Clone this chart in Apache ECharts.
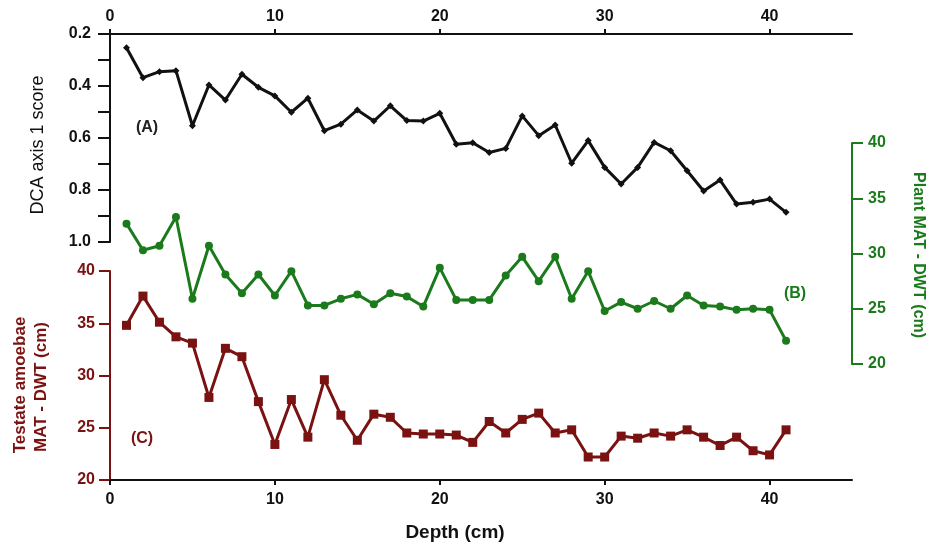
<!DOCTYPE html>
<html>
<head>
<meta charset="utf-8">
<script src="https://cdn.jsdelivr.net/npm/echarts@6/dist/echarts.min.js"></script>
<style>
  html, body { margin: 0; padding: 0; background: #ffffff; }
  #chart { width: 929px; height: 549px; }
</style>
</head>
<body>
<div id="chart"></div>
<script>
// Depth of each sample (cm)
const depth = [1,2,3,4,5,6,7,8,9,10,11,12,13,14,15,16,17,18,19,20,21,22,23,24,25,26,27,28,29,30,31,32,33,34,35,36,37,38,39,40,41];

// (A) DCA axis 1 sample scores
const dcaScore = [0.253,0.368,0.345,0.341,0.553,0.396,0.454,0.355,0.405,0.438,
                  0.501,0.447,0.572,0.547,0.492,0.535,0.476,0.533,0.535,0.505,
                  0.624,0.618,0.656,0.640,0.515,0.591,0.550,0.697,0.610,0.713,
                  0.777,0.713,0.617,0.649,0.726,0.804,0.762,0.854,0.847,0.835,0.886];

// (B) Plant-based MAT - DWT reconstruction (cm)
const plantMat = [32.7,30.3,30.7,33.3,25.9,30.7,28.1,26.4,28.1,26.2,
                  28.4,25.3,25.3,25.9,26.3,25.4,26.4,26.1,25.2,28.7,
                  25.8,25.8,25.8,28.0,29.7,27.5,29.7,25.9,28.4,24.8,
                  25.6,25.0,25.7,25.0,26.2,25.3,25.2,24.9,25.0,24.9,22.1];

// (C) Testate amoebae MAT - DWT reconstruction (cm)
const testateMat = [34.8,37.6,35.1,33.7,33.1,27.9,32.6,31.8,27.5,23.4,
                    27.7,24.1,29.6,26.2,23.8,26.3,26.0,24.5,24.4,24.4,
                    24.3,23.6,25.6,24.5,25.8,26.4,24.5,24.8,22.2,22.2,
                    24.2,24.0,24.5,24.2,24.8,24.1,23.3,24.1,22.8,22.4,24.8];

// Tick values
const depthTicks = [0,10,20,30,40];
const dcaTicks = [0.2,0.4,0.6,0.8,1.0];
const dcaMinorTicks = [0.2,0.3,0.4,0.5,0.6,0.7,0.8,0.9,1.0];
const matTicks = [20,25,30,35,40];

const FONT = '"Liberation Sans", Arial, sans-serif';
const BLACK = '#111111';
const GREEN = '#1b7a1b';
const RED = '#7a1212';

const pairs = vals => depth.map((d, i) => [d, vals[i]]);

function xAxisBase(gridIndex, position, show, margin) {
  return {
    type: 'value', gridIndex, position, show,
    min: 0, max: 45,
    axisLine: { show: true, onZero: false, lineStyle: { color: BLACK, width: 2 } },
    axisTick: { show: true, inside: false, length: 5, customValues: depthTicks, lineStyle: { color: BLACK, width: 2 } },
    axisLabel: { customValues: depthTicks, margin, color: BLACK, fontFamily: FONT, fontWeight: 'bold', fontSize: 16 },
    splitLine: { show: false }
  };
}

function matAxis(gridIndex, position, color, margin) {
  return {
    type: 'value', gridIndex, position,
    min: 20, max: 40, interval: 5,
    axisLine: { show: true, onZero: false, lineStyle: { color, width: 2 } },
    axisTick: { show: true, inside: false, length: 11, customValues: matTicks, lineStyle: { color, width: 2 } },
    axisLabel: { customValues: matTicks, margin, color, fontFamily: FONT, fontWeight: 'bold', fontSize: 16 },
    splitLine: { show: false }
  };
}

const chart = echarts.init(document.getElementById('chart'), null, { renderer: 'canvas' });

chart.setOption({
  animation: false,
  backgroundColor: '#ffffff',
  grid: [
    { left: 110, right: 77, top: 34, height: 208, outerBoundsMode: 'none', containLabel: false },
    { left: 110, right: 77, top: 143, height: 221, outerBoundsMode: 'none', containLabel: false },
    { left: 110, right: 77, top: 271, height: 209, outerBoundsMode: 'none', containLabel: false }
  ],
  xAxis: [
    xAxisBase(0, 'top', true, 9),
    xAxisBase(1, 'bottom', false, 8),
    xAxisBase(2, 'bottom', true, 12)
  ],
  yAxis: [
    {
      type: 'value', gridIndex: 0, position: 'left', inverse: true,
      min: 0.2, max: 1.0,
      axisLine: { show: true, onZero: false, lineStyle: { color: BLACK, width: 2 } },
      axisTick: { show: true, inside: false, length: 12, customValues: dcaMinorTicks, lineStyle: { color: BLACK, width: 2 } },
      axisLabel: {
        customValues: dcaTicks, margin: 19, color: BLACK, fontFamily: FONT, fontWeight: 'bold', fontSize: 16,
        formatter: v => Number(v).toFixed(1)
      },
      splitLine: { show: false }
    },
    matAxis(1, 'right', GREEN, 16),
    matAxis(2, 'left', RED, 15)
  ],
  series: [
    {
      name: 'DCA axis 1 score', type: 'line', xAxisIndex: 0, yAxisIndex: 0,
      data: pairs(dcaScore),
      symbol: 'diamond', symbolSize: 7,
      lineStyle: { color: BLACK, width: 3 },
      itemStyle: { color: BLACK }
    },
    {
      name: 'Plant MAT - DWT', type: 'line', xAxisIndex: 1, yAxisIndex: 1,
      data: pairs(plantMat),
      symbol: 'circle', symbolSize: 8,
      lineStyle: { color: GREEN, width: 3 },
      itemStyle: { color: GREEN }
    },
    {
      name: 'Testate amoebae MAT - DWT', type: 'line', xAxisIndex: 2, yAxisIndex: 2,
      data: pairs(testateMat),
      symbol: 'rect', symbolSize: 9,
      lineStyle: { color: RED, width: 3 },
      itemStyle: { color: RED }
    }
  ],
  graphic: [
    { type: 'text', x: 38, y: 145, rotation: Math.PI / 2,
      style: { text: 'DCA axis 1 score', fill: BLACK, font: '18px ' + FONT, align: 'center', verticalAlign: 'middle' } },
    { type: 'text', x: 20, y: 385, rotation: Math.PI / 2,
      style: { text: 'Testate amoebae', fill: RED, font: 'bold 17px ' + FONT, align: 'center', verticalAlign: 'middle' } },
    { type: 'text', x: 41, y: 387, rotation: Math.PI / 2,
      style: { text: 'MAT - DWT (cm)', fill: RED, font: 'bold 17px ' + FONT, align: 'center', verticalAlign: 'middle' } },
    { type: 'text', x: 918, y: 255, rotation: -Math.PI / 2,
      style: { text: 'Plant MAT - DWT (cm)', fill: GREEN, font: 'bold 16px ' + FONT, align: 'center', verticalAlign: 'middle' } },
    { type: 'text', x: 455, y: 533,
      style: { text: 'Depth (cm)', fill: BLACK, font: 'bold 19px ' + FONT, align: 'center', verticalAlign: 'middle' } },
    { type: 'text', x: 147, y: 128,
      style: { text: '(A)', fill: '#222222', font: 'bold 16px ' + FONT, align: 'center', verticalAlign: 'middle' } },
    { type: 'text', x: 795, y: 294,
      style: { text: '(B)', fill: GREEN, font: 'bold 16px ' + FONT, align: 'center', verticalAlign: 'middle' } },
    { type: 'text', x: 142, y: 439,
      style: { text: '(C)', fill: RED, font: 'bold 16px ' + FONT, align: 'center', verticalAlign: 'middle' } }
  ]
});
</script>
</body>
</html>
